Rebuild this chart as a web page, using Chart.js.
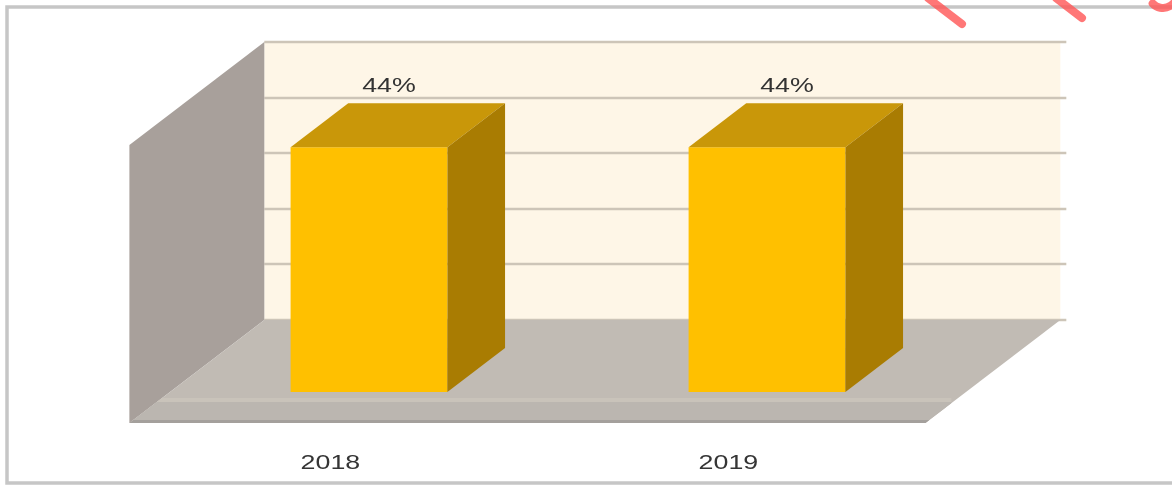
<!DOCTYPE html>
<html>
<head>
<meta charset="utf-8">
<style>
  html, body { margin: 0; padding: 0; background: #ffffff; }
  #wrap { position: relative; width: 1172px; height: 494px; }
</style>
<script src="https://cdn.jsdelivr.net/npm/chart.js@4.4.1/dist/chart.umd.min.js"></script>
</head>
<body>
<div id="wrap"><canvas id="chart" width="1172" height="494"></canvas></div>
<script>
// 3D-style column chart: share per year, drawn on a walled "box" (back wall,
// side wall, floor) with extruded columns.

const YEARS = ['2018', '2019'];
const SHARE = [44, 44];          // percent
const Y_MAX = 50;
const Y_STEP = 10;

// oblique projection: one unit of depth moves DX px right and 1 px up
const DX = 1.31;
const BAR_DEPTH = 44;
const WALL_DEPTH = 72;
const FLOOR_FRONT = -31;
const TEXT_STRETCH = 1.34;

function shift(t) { return { x: t * DX, y: -t }; }

function poly(ctx, pts) {
  ctx.beginPath();
  ctx.moveTo(pts[0][0], pts[0][1]);
  for (let i = 1; i < pts.length; i++) ctx.lineTo(pts[i][0], pts[i][1]);
  ctx.closePath();
  ctx.fill();
}

function stretchedText(ctx, text, x, y) {
  ctx.save();
  ctx.translate(x, y);
  ctx.scale(TEXT_STRETCH, 1);
  ctx.fillText(text, 0, 0);
  ctx.restore();
}

const box3d = {
  id: 'box3d',
  beforeDraw(chart) {
    const { ctx } = chart;
    ctx.save();
    ctx.strokeStyle = '#c6c6c6';
    ctx.lineWidth = 3.5;
    ctx.strokeRect(7, 7, 1200, 476);
    ctx.restore();
  },
  beforeDatasetsDraw(chart) {
    const { ctx, chartArea: a, scales } = chart;
    const ys = scales.y;
    const back = shift(WALL_DEPTH);
    const front = shift(FLOOR_FRONT);
    const base = ys.getPixelForValue(0);
    const top = ys.getPixelForValue(Y_MAX);
    ctx.save();

    // back wall
    ctx.fillStyle = '#fef6e7';
    ctx.fillRect(a.left + back.x, top + back.y, a.right - a.left, base - top);

    // gridlines on the back wall
    ctx.strokeStyle = '#cdc5b8';
    ctx.lineWidth = 2.5;
    ys.ticks.forEach(t => {
      const py = Math.round(ys.getPixelForValue(t.value) + back.y);
      ctx.beginPath();
      ctx.moveTo(a.left + back.x, py);
      ctx.lineTo(a.right + back.x + 6, py);
      ctx.stroke();
    });

    // left side wall
    ctx.fillStyle = '#a8a09b';
    poly(ctx, [
      [a.left + front.x, top + front.y],
      [a.left + back.x, top + back.y],
      [a.left + back.x, base + back.y],
      [a.left + front.x, base + front.y]
    ]);

    // floor
    ctx.fillStyle = '#c1bbb4';
    const floorPts = [
      [a.left + back.x, base + back.y],
      [a.right + back.x, base + back.y],
      [a.right + front.x, base + front.y],
      [a.left + front.x, base + front.y]
    ];
    poly(ctx, floorPts);

    // front edge band of the floor
    ctx.save();
    ctx.beginPath();
    ctx.moveTo(floorPts[0][0], floorPts[0][1]);
    floorPts.slice(1).forEach(p => ctx.lineTo(p[0], p[1]));
    ctx.closePath();
    ctx.clip();
    ctx.fillStyle = '#c9c3ba';
    ctx.fillRect(a.left + front.x - 4, base + front.y - 25, a.right - a.left + 30, 4);
    ctx.fillStyle = '#bbb6b0';
    ctx.fillRect(a.left + front.x - 4, base + front.y - 21, a.right - a.left + 30, 21);
    ctx.fillStyle = '#a4a09c';
    ctx.fillRect(a.left + front.x - 4, base + front.y - 3, a.right - a.left + 30, 3);
    ctx.restore();

    ctx.restore();
  },
  afterDatasetsDraw(chart) {
    const { ctx, scales } = chart;
    const meta = chart.getDatasetMeta(0);
    const d = shift(BAR_DEPTH);
    const front = shift(FLOOR_FRONT);
    ctx.save();
    meta.data.forEach((bar, i) => {
      const p = bar.getProps(['x', 'y', 'width', 'base'], true);
      const l = p.x - p.width / 2;
      const r = p.x + p.width / 2;

      // top face
      ctx.fillStyle = '#c99709';
      poly(ctx, [[l, p.y], [l + d.x, p.y + d.y], [r + d.x, p.y + d.y], [r, p.y]]);
      // right side face
      ctx.fillStyle = '#a97c02';
      poly(ctx, [[r, p.y], [r + d.x, p.y + d.y], [r + d.x, p.base + d.y], [r, p.base]]);

      // value label above the column
      ctx.fillStyle = '#333333';
      ctx.font = '20px "Liberation Sans", Arial, sans-serif';
      ctx.textAlign = 'center';
      ctx.textBaseline = 'middle';
      stretchedText(ctx, SHARE[i] + '%', p.x + 20, p.y + d.y - 17);
    });

    // category labels under the floor front edge
    const xs = scales.x;
    const base = scales.y.getPixelForValue(0);
    ctx.fillStyle = '#353535';
    ctx.font = '20px "Liberation Sans", Arial, sans-serif';
    ctx.textAlign = 'center';
    ctx.textBaseline = 'middle';
    YEARS.forEach((yr, i) => {
      stretchedText(ctx, yr, xs.getPixelForValue(i) + front.x + 2, base + front.y + 40);
    });
    ctx.restore();
  },
  afterDraw(chart) {
    // pink pen strokes along the top edge
    const { ctx } = chart;
    ctx.save();
    ctx.strokeStyle = 'rgba(255, 85, 85, 0.8)';
    ctx.lineWidth = 8;
    ctx.lineCap = 'round';
    ctx.beginPath(); ctx.moveTo(928, -2); ctx.lineTo(962, 24); ctx.stroke();
    ctx.beginPath(); ctx.moveTo(1056, -2); ctx.lineTo(1082, 18); ctx.stroke();
    ctx.beginPath(); ctx.arc(1163, -6, 14, 0.2, 2.4); ctx.stroke();
    ctx.restore();
  }
};

new Chart(document.getElementById('chart').getContext('2d'), {
  type: 'bar',
  data: {
    labels: YEARS,
    datasets: [{
      data: SHARE,
      backgroundColor: '#ffc000',
      borderWidth: 0,
      categoryPercentage: 1,
      barPercentage: 0.394
    }]
  },
  options: {
    responsive: false,
    animation: false,
    layout: { padding: { left: 170, right: 206, top: 114, bottom: 102 } },
    plugins: { legend: { display: false }, tooltip: { enabled: false } },
    scales: {
      x: { display: false },
      y: { display: false, min: 0, max: Y_MAX, ticks: { stepSize: Y_STEP } }
    }
  },
  plugins: [box3d]
});
</script>
</body>
</html>
